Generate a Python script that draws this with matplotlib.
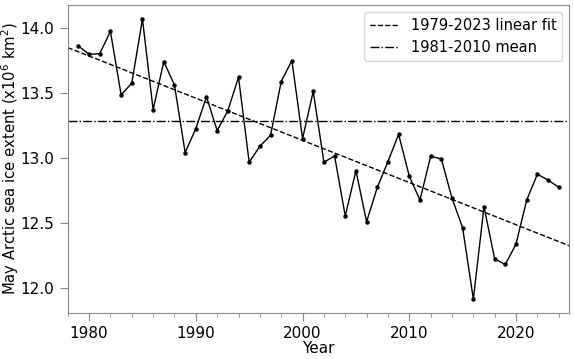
import matplotlib.pyplot as plt
import numpy as np
from matplotlib.ticker import MultipleLocator

years = np.arange(1979, 2025)
extent = [
    13.865, 13.80, 13.806, 13.977, 13.489, 13.578, 14.072, 13.374, 13.745, 13.563,
    13.044, 13.229, 13.474, 13.213, 13.367, 13.624, 12.970, 13.093, 13.177, 13.591,
    13.752, 13.152, 13.515, 12.970, 13.018, 12.556, 12.905, 12.512, 12.776, 12.975,
    13.185, 12.862, 12.679, 13.016, 12.995, 12.694, 12.464, 11.917, 12.627, 12.226,
    12.183, 12.341, 12.679, 12.878, 12.832, 12.778,
]
extent = np.array(extent)

# linear fit 1979-2023, mean 1981-2010
fit_mask = years <= 2023
coef = np.polyfit(years[fit_mask], extent[fit_mask], 1)
mean_mask = (years >= 1981) & (years <= 2010)
clim_mean = extent[mean_mask].mean()

fig, ax = plt.subplots(figsize=(5.74, 3.59), dpi=100)

ax.plot(years, extent, "-", color="black", lw=1.0, marker="o", ms=2.2)
xfit = np.array([1978, 2025])
ax.plot(xfit, np.polyval(coef, xfit), "--", color="black", lw=1.0,
        label="1979-2023 linear fit")
ax.axhline(clim_mean, color="black", ls="-.", lw=1.0, label="1981-2010 mean")

ax.set_xlim(1978, 2025)
ax.xaxis.set_major_locator(MultipleLocator(10))
ax.xaxis.set_minor_locator(MultipleLocator(2))
ax.yaxis.set_major_locator(MultipleLocator(0.5))
ax.tick_params(axis="both", which="major", labelsize=11, length=6, color="#888888")
ax.tick_params(axis="x", which="minor", length=3, color="#888888")
for s in ax.spines.values():
    s.set_color("#888888")

ax.set_xlabel("Year", fontsize=11, labelpad=0)
ax.set_ylabel("May Arctic sea ice extent (x10$^6$ km$^2$)", fontsize=10.6)
ax.yaxis.set_label_coords(-0.094, 0.503)
ax.legend(fontsize=10.5, loc="upper right")

fig.subplots_adjust(left=0.118, right=0.992, top=0.986, bottom=0.128)
fig.savefig("out.png", dpi=100)
